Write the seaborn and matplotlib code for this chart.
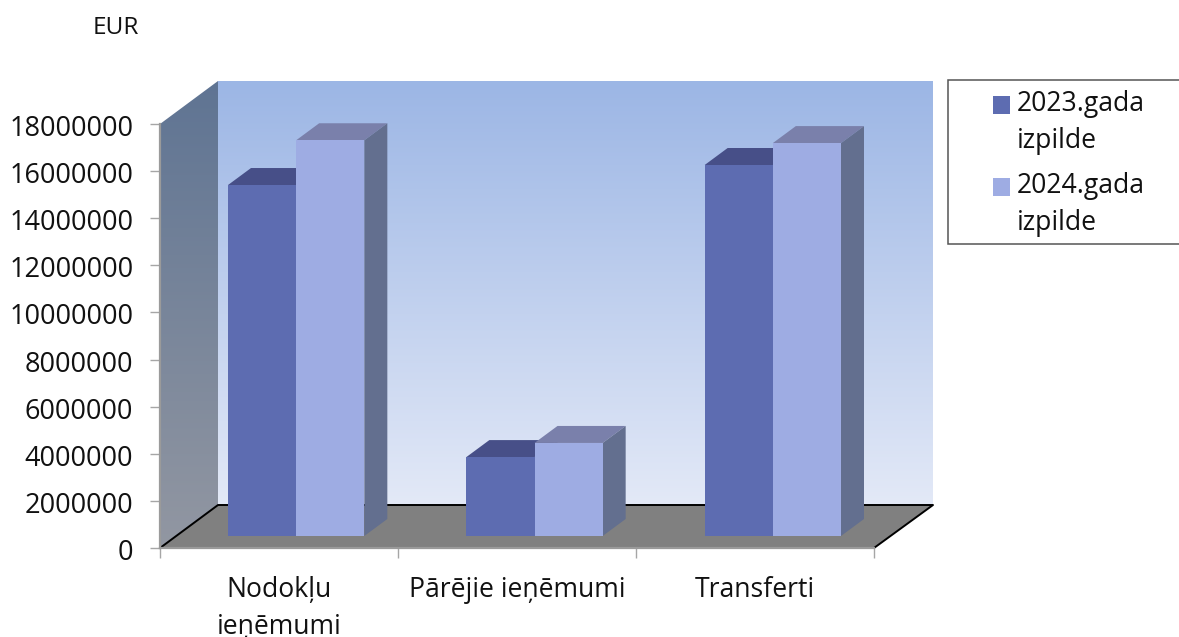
import numpy as np
import pandas as pd
import matplotlib
matplotlib.use("Agg")
import matplotlib.pyplot as plt
from matplotlib.patches import Polygon, Rectangle
from matplotlib.transforms import ScaledTranslation
import seaborn as sns

categories = ["Nodokļu\nieņēmumi", "Pārējie ieņēmumi", "Transferti"]
series_2023 = [14900000, 3350000, 15750000]
series_2024 = [16800000, 3950000, 16680000]
series_names = ["2023.gada\nizpilde", "2024.gada\nizpilde"]
y_ticks = [0, 2000000, 4000000, 6000000, 8000000, 10000000, 12000000, 14000000, 16000000, 18000000]

sns.set_theme(style="white")
plt.rcParams["font.family"] = ["Open Sans", "DejaVu Sans"]
FS = 19.5
FS2 = 19.1
W, H = 1179, 637
fig = plt.figure(figsize=(W / 100, H / 100), dpi=100, facecolor="white")

def box(x0, ytop, x1, ybot):
    return [x0 / W, 1 - ybot / H, (x1 - x0) / W, (ybot - ytop) / H]

# ---- backdrop in pixel space
bg = fig.add_axes([0, 0, 1, 1], zorder=0)
bg.set_xlim(0, W); bg.set_ylim(H, 0); bg.axis("off")

back_top = np.array([0x9c, 0xb6, 0xe5]) / 255
back_bot = np.array([0xe3, 0xe9, 0xf7]) / 255
t = np.linspace(0, 1, 256)[:, None, None]
grad = back_top * (1 - t) + back_bot * t
bg.imshow(grad, extent=(218, 933, 505, 81), aspect="auto", zorder=1)

wall_top = np.array([0x5f, 0x74, 0x93]) / 255
wall_bot = np.array([0x92, 0x97, 0xa2]) / 255
grad2 = wall_top * (1 - t) + wall_bot * t
im = bg.imshow(grad2, extent=(160, 218, 548, 81), aspect="auto", zorder=1)
wall = Polygon([(160, 124), (218, 81), (218, 505), (160, 548)], closed=True, fc="none", ec="none")
bg.add_patch(wall)
im.set_clip_path(wall)

bg.add_patch(Polygon([(160, 548), (218, 505), (933, 505), (874, 548)], closed=True,
                     fc="#808080", ec="none", zorder=2))
bg.plot([160, 218, 933, 874], [548, 505, 505, 548], color="black", lw=1.4, zorder=3)
bg.add_patch(Rectangle((948, 80), 260, 164, fc="white", ec="#555555", lw=1.1, zorder=1))
bg.set_xlim(0, W); bg.set_ylim(H, 0)

# ---- front plane axis: ticks and labels
fr = fig.add_axes(box(160, 124, 874, 548), zorder=1)
fr.patch.set_alpha(0)
fr.set_xlim(-0.5, 2.5); fr.set_ylim(0, 18000000)
for s in ["top", "right"]:
    fr.spines[s].set_visible(False)
for s in ["left", "bottom"]:
    fr.spines[s].set_color("#9a9a9a"); fr.spines[s].set_linewidth(1.6)
fr.set_yticks(y_ticks)
fr.set_yticklabels([str(v) for v in y_ticks], fontsize=FS, color="#111111")
fr.tick_params(axis="y", left=True, length=7.2, width=1.0, color="#a6a6a6", pad=12)
down = ScaledTranslation(0, -1.5 / 100, fig.dpi_scale_trans)
for lab in fr.get_yticklabels():
    lab.set_transform(lab.get_transform() + down)
fr.set_xticks([0, 1, 2])
fr.set_xticklabels(categories, fontsize=FS2, color="#111111", linespacing=1.43)
fr.tick_params(axis="x", which="major", bottom=False, length=0, pad=20)
fr.set_xticks([-0.5, 0.5, 1.5, 2.5], minor=True)
fr.tick_params(axis="x", which="minor", bottom=True, length=7.2, width=1.0, color="#a6a6a6")

# ---- bars
df = pd.DataFrame({
    "cat": categories * 2,
    "val": series_2023 + series_2024,
    "ser": [series_names[0]] * 3 + [series_names[1]] * 3,
})
ax = fig.add_axes(box(177, 112, 892, 536), zorder=2)
ax.patch.set_alpha(0)
front = ["#5d6cb1", "#9eace3"]
tops = ["#474f88", "#7a80ab"]
sides = ["#5a6590", "#636f8f"]
sns.barplot(data=df, x="cat", y="val", hue="ser", palette=front, width=0.572, gap=0,
            saturation=1, ax=ax, edgecolor="none", linewidth=0, zorder=3)
ax.set_xlim(-0.5, 2.5); ax.set_ylim(0, 18000000)
ax.axis("off")

dx = 23 / 238.3          # bar depth in category units
dy = 17 / 424 * 18000000  # bar depth in value units
for k, cont in enumerate(ax.containers):
    for rect in cont:
        x0, x1, h = rect.get_x(), rect.get_x() + rect.get_width(), rect.get_height()
        ax.add_patch(Polygon([(x0, h), (x1, h), (x1 + dx, h + dy), (x0 + dx, h + dy)], closed=True,
                             fc=tops[k], ec="none", zorder=2, clip_on=False))
        ax.add_patch(Polygon([(x1, 0), (x1 + dx, dy), (x1 + dx, h + dy), (x1, h)], closed=True,
                             fc=sides[k], ec="none", zorder=2, clip_on=False))

handles, labels = ax.get_legend_handles_labels()
if ax.get_legend() is not None:
    ax.get_legend().remove()
leg = fig.legend(handles, labels, loc="upper left", bbox_to_anchor=(981 / W, 1 - 78 / H),
           bbox_transform=fig.transFigure, frameon=False, fontsize=FS2, labelspacing=0.62,
           handlelength=0.64, handleheight=0.64, handletextpad=0.25, borderpad=0.45,
           borderaxespad=0, labelcolor="#111111")
for txt in leg.get_texts():
    txt.set_linespacing(1.45)
for hd in leg.legend_handles:
    hd.set_y(hd.get_y() + 13.5)

fig.text(93 / W, 1 - 28 / H, "EUR", fontsize=17.6, va="center", ha="left", color="#111111")

fig.savefig("out.png", dpi=100)
